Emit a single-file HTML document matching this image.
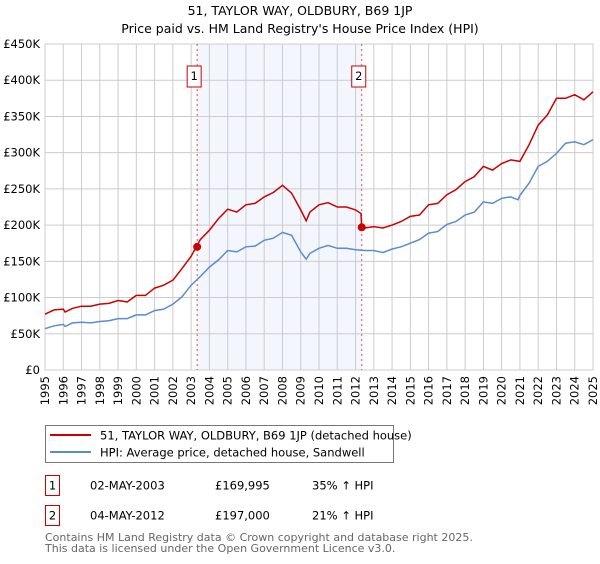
<!DOCTYPE html>
<html><head><meta charset="utf-8"><style>
body{margin:0;background:#fff;font-family:"DejaVu Sans","Liberation Sans",sans-serif;}
svg text{font-family:"DejaVu Sans","Liberation Sans",sans-serif;}
</style></head><body>
<svg id="c" width="600" height="560" xmlns="http://www.w3.org/2000/svg">
<text x="300" y="15" text-anchor="middle" font-size="12.5" fill="#000">51, TAYLOR WAY, OLDBURY, B69 1JP</text>
<text x="300" y="33" text-anchor="middle" font-size="12.5" fill="#000">Price paid vs. HM Land Registry's House Price Index (HPI)</text>
<g id="plot"></g>
<rect x="45.5" y="425.5" width="348" height="37" fill="#fff" stroke="#777"/>
<line x1="50" y1="435" x2="91" y2="435" stroke="#cc0000" stroke-width="2"/>
<text x="100" y="439.5" font-size="11.5">51, TAYLOR WAY, OLDBURY, B69 1JP (detached house)</text>
<line x1="50" y1="452" x2="91" y2="452" stroke="#5b8bd0" stroke-width="2"/>
<text x="100" y="456.5" font-size="11.5">HPI: Average price, detached house, Sandwell</text>
<g>
<rect x="45.5" y="475.5" width="14" height="20" fill="#fff" stroke="#cc0000"/>
<text x="52.5" y="489.5" text-anchor="middle" font-size="11.5">1</text>
<text x="90" y="489.5" font-size="11.5">02-MAY-2003</text>
<text x="215" y="489.5" font-size="11.5">£169,995</text>
<text x="312" y="489.5" font-size="11.5">35% ↑ HPI</text>
</g>
<g>
<rect x="45.5" y="505.5" width="14" height="20" fill="#fff" stroke="#cc0000"/>
<text x="52.5" y="519.5" text-anchor="middle" font-size="11.5">2</text>
<text x="90" y="519.5" font-size="11.5">04-MAY-2012</text>
<text x="215" y="519.5" font-size="11.5">£197,000</text>
<text x="312" y="519.5" font-size="11.5">21% ↑ HPI</text>
</g>
<text x="45" y="541" font-size="11" fill="#666">Contains HM Land Registry data © Crown copyright and database right 2025.</text>
<text x="45" y="552" font-size="11" fill="#666">This data is licensed under the Open Government Licence v3.0.</text>
</svg>
<script>
const yTicks=[0,50,100,150,200,250,300,350,400,450];
const yTickLabels=["£0","£50K","£100K","£150K","£200K","£250K","£300K","£350K","£400K","£450K"];
const xYears=[1995,1996,1997,1998,1999,2000,2001,2002,2003,2004,2005,2006,2007,2008,2009,2010,2011,2012,2013,2014,2015,2016,2017,2018,2019,2020,2021,2022,2023,2024,2025];
const hpiDates=[1995,1995.5,1996,1996.1,1996.5,1997,1997.5,1998,1998.5,1999,1999.5,2000,2000.5,2001,2001.5,2002,2002.5,2003,2003.5,2004,2004.5,2005,2005.5,2006,2006.5,2007,2007.5,2008,2008.5,2009,2009.3,2009.5,2010,2010.5,2011,2011.5,2012,2012.5,2013,2013.5,2014,2014.5,2015,2015.5,2016,2016.5,2017,2017.5,2018,2018.5,2019,2019.5,2020,2020.5,2020.9,2021,2021.5,2022,2022.5,2023,2023.5,2024,2024.5,2025];
const hpiValues=[57,61,63,60,65,66,65,67,68,71,71,76,76,82,84,91,101,117,129,142,152,165,163,170,171,179,182,190,186,163,153,161,168,172,168,168,166,165,165,162,167,170,175,180,189,191,201,205,214,218,232,230,237,239,235,241,258,281,288,299,313,315,311,318];
const propDates=[1995,1995.5,1996,1996.1,1996.5,1997,1997.5,1998,1998.5,1999,1999.5,2000,2000.5,2001,2001.5,2002,2002.5,2003,2003.5,2004,2004.5,2005,2005.5,2006,2006.5,2007,2007.5,2008,2008.5,2009,2009.3,2009.5,2010,2010.5,2011,2011.5,2012,2012.3,2012.34,2012.5,2013,2013.5,2014,2014.5,2015,2015.5,2016,2016.5,2017,2017.5,2018,2018.5,2019,2019.5,2020,2020.5,2021,2021.5,2022,2022.5,2023,2023.5,2024,2024.5,2025];
const propValues=[77,83,84,80,85,88,88,91,92,96,94,103,103,113,117,124,140,157,180,193,209,222,218,228,230,239,245,255,244,221,206,218,228,231,225,225,221,216,197,196,198,196,200,205,212,214,228,230,242,249,260,267,281,276,285,290,288,311,338,352,375,375,380,373,384];
const saleDates=[2003.33,2012.34];
const saleValues=[169.995,197];
const saleLabels=["1","2"];

const X0=45,X1=593,Y0=370,Y1=44;
const xs=y=>X0+(y-1995)/30*(X1-X0);
const ys=v=>Y0-v/450*(Y0-Y1);
const NS="http://www.w3.org/2000/svg";
const plot=document.getElementById('plot');
function mk(tag,attrs,parent){const e=document.createElementNS(NS,tag);for(const k in attrs)e.setAttribute(k,attrs[k]);(parent||plot).appendChild(e);return e;}

const shade=mk('rect',{x:xs(saleDates[0]),y:Y1,width:xs(saleDates[1])-xs(saleDates[0]),height:Y0-Y1,fill:'#eef2fc',opacity:0.7});


xYears.forEach(yr=>{const l=mk('line',{x1:xs(yr),x2:xs(yr),y1:Y1,y2:Y0,stroke:'#ccc','stroke-width':1});


const t=mk('text',{x:0,y:0,'font-size':11.5,'text-anchor':'end',transform:`translate(${xs(yr)+4},${Y0+6}) rotate(-90)`});
t.textContent=yr;

});
yTicks.forEach((v,i)=>{const l=mk('line',{x1:X0,x2:X1,y1:ys(v),y2:ys(v),stroke:'#ccc','stroke-width':1});


const t=mk('text',{x:X0-5,y:ys(v)+4,'font-size':11.5,'text-anchor':'end'});
t.textContent=yTickLabels[i];

});
const fr=mk('rect',{x:X0,y:Y1,width:X1-X0,height:Y0-Y1,fill:'none',stroke:'#ccc'});


saleDates.forEach((d,i)=>{const l=mk('line',{x1:xs(d),x2:xs(d),y1:Y1,y2:Y0,stroke:'#e05050','stroke-width':1,'stroke-dasharray':'2,3'});


const bx=xs(d)-3;
const r=mk('rect',{x:bx-7,y:66,width:14,height:21,fill:'#fff',stroke:'#cc0000'});


const t=mk('text',{x:bx,y:80,'font-size':11.5,'text-anchor':'middle'});
t.textContent=saleLabels[i];

});
const hp=mk('path',{d:hpiDates.map((d,i)=>(i?'L':'M')+xs(d).toFixed(1)+','+ys(hpiValues[i]).toFixed(1)).join(''),fill:'none',stroke:'#5b8bd0','stroke-width':1.5});


const pp=mk('path',{d:propDates.map((d,i)=>(i?'L':'M')+xs(d).toFixed(1)+','+ys(propValues[i]).toFixed(1)).join(''),fill:'none',stroke:'#cc0000','stroke-width':1.5});


saleDates.forEach((d,i)=>{const c=mk('circle',{cx:xs(d),cy:ys(saleValues[i]),r:4,fill:'#cc0000'});

});
</script>
</body></html>
